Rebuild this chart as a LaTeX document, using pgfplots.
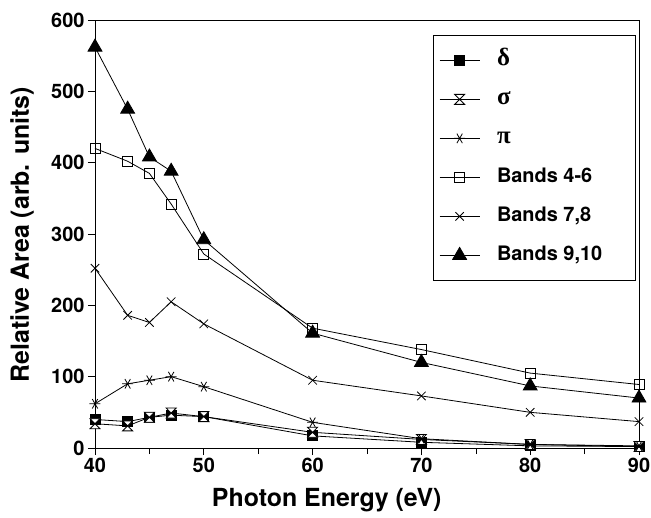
\documentclass[border=0pt]{standalone}
\usepackage{fontspec}
\setmainfont{TeX Gyre Heros}
\newfontfamily\greekfont{Liberation Serif}
\usepackage{pgfplots}
\pgfplotsset{compat=1.18}

\pgfdeclareplotmark{hourglass}{%
  \pgfpathmoveto{\pgfqpoint{-\pgfplotmarksize}{\pgfplotmarksize}}%
  \pgfpathlineto{\pgfqpoint{\pgfplotmarksize}{\pgfplotmarksize}}%
  \pgfpathlineto{\pgfqpoint{-\pgfplotmarksize}{-\pgfplotmarksize}}%
  \pgfpathlineto{\pgfqpoint{\pgfplotmarksize}{-\pgfplotmarksize}}%
  \pgfpathclose
  \pgfusepathqfillstroke
}

\newcommand{\tickfont}{\fontsize{20}{24}\selectfont\bfseries}
\newcommand{\labfont}{\fontsize{25}{30}\selectfont\bfseries}
\newcommand{\gr}[1]{{\greekfont\fontsize{25}{28}\selectfont #1}}

\begin{document}
\begin{tikzpicture}
\path[use as bounding box] (-95bp,-70bp) rectangle (556bp,448bp);
\begin{axis}[
  at={(0,0)}, anchor=south west,
  scale only axis,
  width=544bp, height=428bp,
  xmin=40, xmax=90, ymin=0, ymax=600,
  xtick={40,50,...,90},
  minor xtick={45,55,...,85},
  ytick={0,100,...,600},
  xtick pos=bottom, ytick pos=left,
  tick align=outside,
  major tick length=7bp, minor tick length=6bp,
  every tick/.style={black, line width=0.6bp},
  axis line style={line width=0.8bp},
  /pgf/number format/assume math mode=true,
  ticklabel style={font=\tickfont},
  xlabel={Photon Energy (eV)},
  ylabel={Relative Area (arb. units)},
  label style={font=\labfont},
  xlabel style={at={(axis description cs:0.426,-0.122)}, anchor=center},
  ylabel style={at={(axis description cs:-0.134,0.498)}, anchor=center},
  every axis plot/.append style={black, line width=0.8bp},
  legend cell align=left,
  legend image code/.code={%
    \draw[mark repeat=2, mark phase=2] plot coordinates {(0bp,0bp) (20bp,0bp) (40bp,0bp)};},
  legend style={
    at={(axis description cs:0.621,0.965)}, anchor=north west,
    draw=black, line width=0.8bp, fill=white,
    font=\tickfont,
    inner xsep=6bp, inner ysep=13bp,
    row sep=15bp,
    nodes={text height=14bp, text depth=4bp, inner sep=3bp},
    /tikz/every odd column/.style={column sep=14bp},
  },
]
\addplot[mark=square*, mark size=5bp, mark options={fill=black}] coordinates {
  (40,40) (43,37) (45,43) (47,46) (50,44) (60,17) (70,8) (80,3) (90,2)
};
\addlegendentry{\gr{δ}}
\addplot[mark=hourglass, mark size=5bp, mark options={fill=white}] coordinates {
  (40,34) (43,31) (45,43) (47,49) (50,44) (60,22) (70,12) (80,5) (90,2)
};
\addlegendentry{\gr{σ}}
\addplot[mark=asterisk, mark size=5.5bp, mark options={rotate=90}] coordinates {
  (40,62) (43,90) (45,95) (47,100) (50,86) (60,36) (70,13) (80,5) (90,3)
};
\addlegendentry{\gr{π}}
\addplot[mark=square, mark size=5bp, mark options={fill=white}] coordinates {
  (40,420) (43,402) (45,385) (47,342) (50,272) (60,168) (70,138) (80,105) (90,89)
};
\addlegendentry{Bands 4-6}
\addplot[mark=x, mark size=6bp] coordinates {
  (40,252) (43,186) (45,176) (47,205) (50,174) (60,95) (70,73) (80,50) (90,37)
};
\addlegendentry{Bands 7,8}
\addplot[mark=triangle*, mark size=8bp, mark options={fill=black}] coordinates {
  (40,562) (43,475) (45,408) (47,388) (50,292) (60,161) (70,120) (80,87) (90,70)
};
\addlegendentry{Bands 9,10\hspace*{24bp}}
\end{axis}
\end{tikzpicture}
\end{document}
